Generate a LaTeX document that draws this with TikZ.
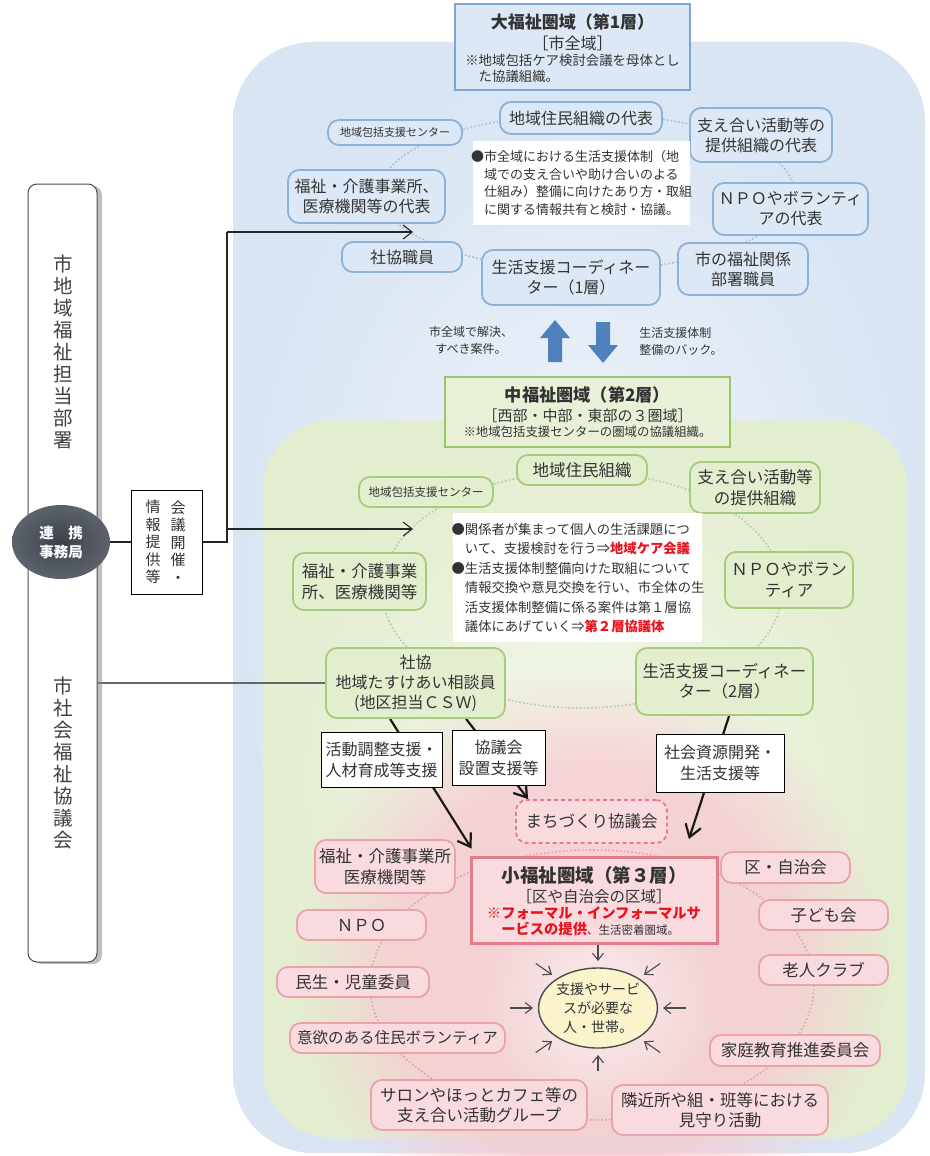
\documentclass[tikz,border=0pt]{standalone}
\usepackage{fontspec}
\setmainfont{Noto Sans CJK JP}
\usetikzlibrary{arrows.meta,shadows,fadings,shapes.geometric}
\pgfdeclarelayer{bg}
\pgfdeclarelayer{links}
\pgfsetlayers{bg,links,main}

\definecolor{txt}{HTML}{333333}
\definecolor{blueIn}{HTML}{EFF4FA}
\definecolor{blueOut}{HTML}{D9E5F3}
\definecolor{greenIn}{HTML}{F4F8EC}
\definecolor{greenOut}{HTML}{E3EDCF}
\definecolor{bFill}{HTML}{DCE8F5}
\definecolor{bLine}{HTML}{8DB1D8}
\definecolor{bTitleLine}{HTML}{7EA5D2}
\definecolor{gFill}{HTML}{E2EECE}
\definecolor{gLine}{HTML}{A7CB7C}
\definecolor{gTitleLine}{HTML}{9CC46A}
\definecolor{pFill}{HTML}{F9DADF}
\definecolor{pLine}{HTML}{E8A3AC}
\definecolor{pTitleLine}{HTML}{E27C88}
\definecolor{pGlow}{HTML}{F6CBD2}
\definecolor{redtxt}{HTML}{E8121E}
\definecolor{arrowBlue}{HTML}{4F81BD}
\definecolor{cream}{HTML}{FBF3CB}
\definecolor{slate}{HTML}{3C4149}
\definecolor{slateRim}{HTML}{5D636C}
\definecolor{bDot}{HTML}{A6BEDA}
\definecolor{gDot}{HTML}{B6CE9A}
\definecolor{pDot}{HTML}{E3A1AB}

% soft pink disc behind the third layer, and a paler core
\pgfdeclareradialshading{glowshade}{\pgfpointorigin}{color(0bp)=(pgftransparent!15); color(17bp)=(pgftransparent!20); color(25bp)=(pgftransparent!100); color(50bp)=(pgftransparent!100)}
\pgfdeclarefading{glowfade}{\pgfuseshading{glowshade}}
\tikzfading[name=corefade, inner color=transparent!35, outer color=transparent!100]

\newcommand\fsz[2]{\fontsize{#1}{#2}\selectfont}

\begin{document}
\begin{tikzpicture}[x=1pt,y=-1pt,
  every node/.style={text=txt, inner sep=0pt},
  sz/.style n args={2}{minimum width=#1pt, minimum height=#2pt},
  shape base/.style={rectangle, rounded corners=11pt, line width=1.8pt, align=center},
  bnode/.style={shape base, draw=bLine, fill=bFill, font=\fsz{16}{20}},
  gnode/.style={shape base, draw=gLine, fill=gFill, font=\fsz{16.5}{20.5}},
  pnode/.style={shape base, draw=pLine, fill=pFill, font=\fsz{16.5}{20.5}},
  notebox/.style={rectangle, fill=white},
  notetext/.style={align=left},
  tag/.style={rectangle, draw=black, line width=1pt, fill=white, align=center, font=\fsz{16}{21}},
  titlebox/.style={rectangle, line width=2.6pt},
  link/.style={draw=black!85, line width=1.1pt},
  openarrow/.style={-{Straight Barb[length=9pt,width=14pt]}},
  bigarrow/.style={line width=2.2pt, draw=black!90, -{Straight Barb[length=12pt,width=16pt]}},
  ring/.style={line width=1.6pt, dash pattern=on 1.6pt off 2.2pt},
  toward/.style={line width=1.1pt, draw=black!70, -{Straight Barb[length=7pt,width=11pt]}},
  vtext/.style={align=center, font=\fsz{19.5}{22}, text=black!75}]

\useasboundingbox (0,0) rectangle (929,1156);

% ---------- background areas ----------
\begin{pgfonlayer}{bg}
  \fill[white] (0,0) rectangle (929,1156);
  \shade[rounded corners=80pt, inner color=blueIn, outer color=blueOut] (233,42) rectangle (925,1153);
  \shade[rounded corners=70pt, inner color=greenIn, outer color=greenOut] (263,420) rectangle (908,1138);
  \fill[pGlow, path fading=glowfade] (592,965) circle (295);
  \fill[white, path fading=corefade] (598,1005) circle (120);
  \draw[ring, bDot] (587,192) ellipse [x radius=207, y radius=78];
  \draw[ring, gDot] (582,590) ellipse [x radius=200, y radius=118];
  \draw[ring, pDot] (592,985) ellipse [x radius=222, y radius=135];
\end{pgfonlayer}

% ---------- left column ----------
\node[rectangle, rounded corners=9pt, draw=black!70, line width=1pt, fill=white, sz={69}{778},
      drop shadow={shadow xshift=5pt, shadow yshift=-2pt, fill=black!45, opacity=.55}] (lbox) at (62.5,573) {};
\node[vtext] (lt1) at (63,352) {市\\地\\域\\福\\祉\\担\\当\\部\\署};
\node[vtext] (lt2) at (63,763) {市\\社\\会\\福\\祉\\協\\議\\会};
\node[ellipse, inner color=slate, outer color=slateRim, sz={98}{74}, align=center,
      font=\fsz{14.5}{19}\bfseries, text=white] (office) at (61,542) {連　携\\事務局};
\node[rectangle, draw=black, line width=1pt, fill=white, sz={71}{104}] (info) at (166.5,542) {};
\node[align=center, font=\fsz{15}{17.5}] (infoR) at (178,542) {会\\議\\開\\催\\・};
\node[align=center, font=\fsz{15}{17.5}] (infoL) at (153,542) {情\\報\\提\\供\\等};

% ---------- first layer ----------
\node[titlebox, draw=bTitleLine, fill=bFill, sz={235}{86}] (l1box) at (572.5,47) {};
\node[font=\fsz{17}{20}\bfseries] (l1title) at (572.5,22) {大福祉圏域（第1層）};
\node[font=\fsz{16}{19}] (l1area) at (572.5,43) {［市全域］};
\node[font=\fsz{13.4}{15.5}, align=left] (l1note) at (572.5,68.5) {※地域包括ケア検討会議を母体とし\\\hspace{1em}た協議組織。};

\node[bnode, font=\fsz{11}{14}, sz={134}{25}] (b1) at (395,132.5) {地域包括支援センター};
\node[bnode, sz={162}{32}] (b2) at (581,118) {地域住民組織の代表};
\node[bnode, sz={142}{54}] (b3) at (761,135) {支え合い活動等の\\提供組織の代表};
\node[bnode, sz={157}{53}] (b4) at (366.5,196.5) {福祉・介護事業所、\\医療機関等の代表};
\node[bnode, sz={155}{52}] (b5) at (790.5,209) {ＮＰＯやボランティ\\アの代表};
\node[bnode, sz={120}{30}] (b6) at (402,257) {社協職員};
\node[bnode, sz={178}{55}] (b7) at (571,277.5) {生活支援コーディネー\\ター（1層）};
\node[bnode, sz={130}{52}] (b8) at (743,269) {市の福祉関係\\部署職員};
\node[notebox, sz={217}{84}] (note1) at (581.5,183) {};
\node[notetext, font=\fsz{13}{17.5}] (note1text) at (581.5,183)
  {●市全域における生活支援体制（地\\\phantom{●}域での支え合いや助け合いのよる\\\phantom{●}仕組み）整備に向けたあり方・取組\\\phantom{●}に関する情報共有と検討・協議。};

% exchange between the first and second layers
\fill[arrowBlue] (548,362) -- (548,338) -- (540,338) -- (555,320) -- (570,338) -- (562,338) -- (562,362) -- cycle;
\fill[arrowBlue] (596,322) -- (596,345) -- (588,345) -- (603,363) -- (618,345) -- (610,345) -- (610,322) -- cycle;
\node[align=center, font=\fsz{12}{17}] (upnote) at (471,340) {市全域で解決、\\すべき案件。};
\node[align=left, font=\fsz{12}{17}] (downnote) at (681,341) {生活支援体制\\整備のバック。};

% ---------- second layer ----------
\node[titlebox, draw=gTitleLine, fill=gFill!80!white, sz={285}{70}] (l2box) at (587.5,412) {};
\node[font=\fsz{17.2}{20}\bfseries] (l2title) at (587.5,395) {中福祉圏域（第2層）};
\node[font=\fsz{15}{18}] (l2area) at (587.5,416) {［西部・中部・東部の３圏域］};
\node[font=\fsz{12.4}{15}] (l2note) at (587.5,432) {※地域包括支援センターの圏域の協議組織。};

\node[gnode, sz={130}{30}] (g1) at (582,470) {地域住民組織};
\node[gnode, font=\fsz{11.5}{14}, sz={134}{30}] (g2) at (426,492) {地域包括支援センター};
\node[gnode, sz={130}{51}] (g3) at (755,487.5) {支え合い活動等\\の提供組織};
\node[gnode, sz={133}{57}] (g4) at (359.5,581.5) {福祉・介護事業\\所、医療機関等};
\node[gnode, sz={128}{56}] (g5) at (789,580) {ＮＰＯやボラン\\ティア};
\node[gnode, sz={179}{70}, font=\fsz{16}{20}] (g6) at (415.5,683) {社協\\地域たすけあい相談員\\(地区担当ＣＳＷ)};
\node[gnode, sz={177}{67}] (g7) at (724.5,681.5) {生活支援コーディネー\\ター（2層）};
\node[notebox, sz={249}{129}] (note2) at (577.5,577.5) {};
\node[notetext, font=\fsz{13.3}{19.5}] (note2text) at (578,578)
  {●関係者が集まって個人の生活課題につ\\\phantom{●}いて、支援検討を行う⇒{\color{redtxt}\bfseries 地域ケア会議}\\●生活支援体制整備向けた取組について\\\phantom{●}情報交換や意見交換を行い、市全体の生\\\phantom{●}活支援体制整備に係る案件は第１層協\\\phantom{●}議体にあげていく⇒{\color{redtxt}\bfseries 第２層協議体}};

\node[tag, sz={121}{55}] (tag1) at (381.5,759.5) {活動調整支援・\\人材育成等支援};
\node[tag, sz={93}{55}] (tag2) at (498.5,757.5) {協議会\\設置支援等};
\node[tag, sz={128}{58}] (tag3) at (720,763) {社会資源開発・\\生活支援等};

% ---------- third layer ----------
\node[pnode, draw=pTitleLine, dash pattern=on 4pt off 3pt, sz={151}{43}] (machi) at (591.5,821.5) {まちづくり協議会};
\node[pnode, sz={140}{53}] (p1) at (385,866.5) {福祉・介護事業所\\医療機関等};
\node[titlebox, draw=pTitleLine, fill=pFill, line width=3pt, sz={246}{86}] (l3box) at (594,900) {};
\node[font=\fsz{18.5}{21}\bfseries] (l3title) at (594,875) {小福祉圏域（第３層）};
\node[font=\fsz{15.5}{18}] (l3area) at (594,897) {［区や自治会の区域］};
\node[font=\fsz{14.3}{16}, align=left] (l3note) at (594,921)
  {{\color{redtxt}\bfseries ※フォーマル・インフォーマルサ}\\{\color{redtxt}\bfseries \phantom{※}ービスの提供}{\fsz{11.5}{16}、生活密着圏域。}};

\node[pnode, sz={129}{31}] (p2) at (785.5,867.5) {区・自治会};
\node[pnode, sz={129}{30}] (p3) at (361.5,925) {ＮＰＯ};
\node[pnode, sz={129}{30}] (p4) at (823.5,915) {子ども会};
\node[pnode, sz={152}{30}] (p5) at (353,982) {民生・児童委員};
\node[pnode, sz={129}{30}] (p6) at (823.5,970) {老人クラブ};
\node[pnode, font=\fsz{15.5}{19}, sz={215}{30}] (p7) at (397.5,1038) {意欲のある住民ボランティア};
\node[pnode, sz={170}{31}] (p8) at (795,1050.5) {家庭教育推進委員会};
\node[pnode, sz={216}{50}] (p9) at (479,1105) {サロンやほっとカフェ等の\\支え合い活動グループ};
\node[pnode, sz={216}{50}] (p10) at (720,1110) {隣近所や組・班等における\\見守り活動};
\node[ellipse, draw=black!70, line width=1.4pt, fill=cream, sz={112}{80}, align=center,
      font=\fsz{14}{19}] (need) at (598,1008) {支援やサービ\\スが必要な\\人・世帯。};

% ---------- connectors ----------
\begin{pgfonlayer}{links}
  \coordinate (fork) at (227,542);
  \coordinate (forkTop) at (227,232);
  \coordinate (forkMid) at (227,529);
  \coordinate (tipTop) at (413,232);
  \coordinate (tipMid) at (413,529);
  \draw[link] (office) -- (info);
  \draw[link] (info.east) -- (fork) -- (forkTop);
  \draw[link, openarrow] (forkTop) -- (tipTop);
  \draw[link, openarrow] (forkMid) -- (tipMid);
  \draw[link, line width=1.3pt, draw=black!60] (lbox.east |- g6.west) -- (g6.west);

  \draw[bigarrow] ([xshift=65pt]g6.south west) -- ([xshift=2pt,yshift=7pt]l3box.north west);
  \draw[bigarrow] ([xshift=141pt]g6.south west) -- ([xshift=13pt]machi.north west);
  \draw[bigarrow] ([xshift=94pt]g7.south west) -- ([xshift=21pt,yshift=-40pt]machi.north east);

  \foreach \a in {0,45,...,315}
    \draw[toward] ([shift={(\a:88 and 63)}]need.center) -- ([shift={(\a:65 and 47)}]need.center);
\end{pgfonlayer}

\end{tikzpicture}
\end{document}
